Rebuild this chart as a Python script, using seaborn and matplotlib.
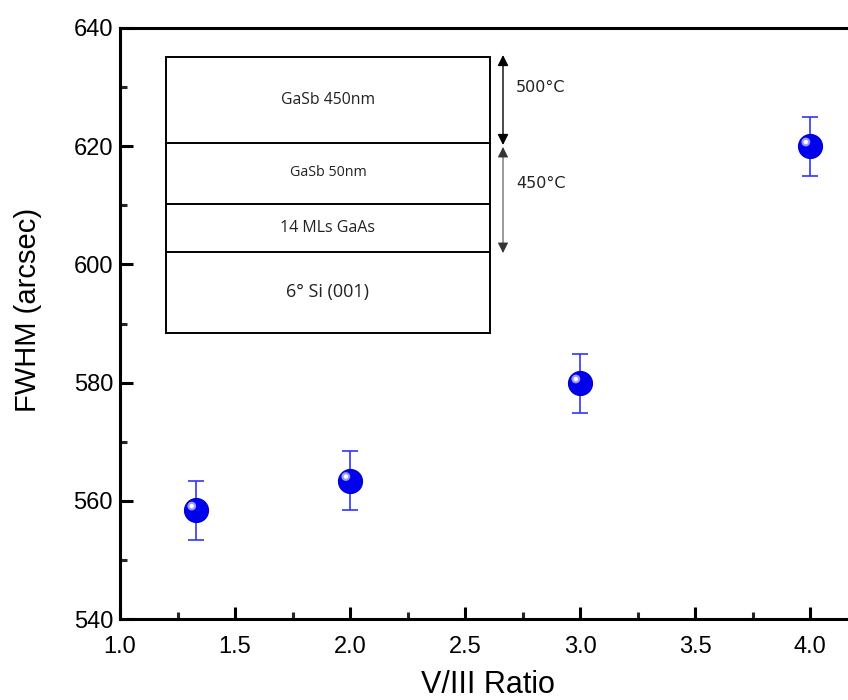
import numpy as np
import pandas as pd
import matplotlib
matplotlib.use("Agg")
import matplotlib.pyplot as plt
import matplotlib.transforms as mtransforms
from matplotlib.patches import Rectangle
from matplotlib.ticker import MultipleLocator
import seaborn as sns

sns.set_theme(style="ticks")
plt.rcParams['font.family'] = ['Liberation Sans', 'DejaVu Sans']

# data
ratio = [1.33, 2.0, 3.0, 4.0]
fwhm = [558.4, 563.4, 579.9, 620.0]
fwhm_err = [5.0, 5.0, 5.0, 5.0]

layers = ["GaSb 450nm", "GaSb 50nm", "14 MLs GaAs", "6° Si (001)"]
temps = ["500°C", "450°C"]

df = pd.DataFrame({"ratio": ratio, "fwhm": fwhm, "err": fwhm_err})

fig = plt.figure(figsize=(8.48, 7.0), dpi=100)
ax = fig.add_axes([120 / 848, 81 / 700, 1 - 120 / 848, 591 / 700])

# error bars first, then the spheres on top
ax.errorbar(df["ratio"], df["fwhm"], yerr=df["err"], fmt="none",
            ecolor="#3333ff", elinewidth=1.2, capsize=6, capthick=1.2, zorder=2)
sns.scatterplot(data=df, x="ratio", y="fwhm", ax=ax, s=300, color="#0000ee",
                edgecolor="#0000cc", linewidth=0.8, zorder=3, legend=False)
# highlight on spheres
hl = mtransforms.offset_copy(ax.transData, fig=fig, x=-3, y=3, units="points")
ax.scatter(df["ratio"], df["fwhm"], s=40, color="#9c9cff", edgecolor="none",
           transform=hl, zorder=4)
ax.scatter(df["ratio"], df["fwhm"], s=10, color="white", edgecolor="none",
           transform=hl, zorder=5)

ax.set_xlim(1.0, 1 + (848 - 120) / 230.0)
ax.set_ylim(540, 640)
ax.xaxis.set_major_locator(MultipleLocator(0.5))
ax.xaxis.set_minor_locator(MultipleLocator(0.25))
ax.yaxis.set_major_locator(MultipleLocator(20))
ax.yaxis.set_minor_locator(MultipleLocator(10))
ax.xaxis.set_major_formatter(matplotlib.ticker.FormatStrFormatter("%.1f"))

for s in ["left", "bottom", "top"]:
    ax.spines[s].set_linewidth(2.2)
    ax.spines[s].set_color("black")
ax.spines["right"].set_visible(False)
ax.tick_params(which="major", direction="in", length=9, width=2.2,
               labelsize=17, colors="black", pad=5)
ax.tick_params(axis="x", which="major", pad=12)
ax.tick_params(which="minor", direction="in", length=5, width=2.2)
ax.tick_params(top=False, right=False, which="both")
ax.set_xlabel("V/III Ratio", fontsize=22, color="black")
ax.set_ylabel("FWHM (arcsec)", fontsize=21, color="black")
ax.xaxis.set_label_coords(0.505, -0.086)
ax.yaxis.set_label_coords(-0.107, 0.523)
ax.grid(False)

# layer stack sketch, drawn in pixel coords
ov = fig.add_axes([0, 0, 1, 1], facecolor="none")
ov.set_xlim(0, 848)
ov.set_ylim(700, 0)
ov.axis("off")
ov.add_patch(Rectangle((166, 57), 324, 276, fill=False, lw=1.4, ec="black"))
for yy in [143, 204, 252]:
    ov.plot([166, 490], [yy, yy], color="black", lw=1.4)
lay_y = [100, 173, 228, 292]
lay_fs = [11.3, 10.3, 11.5, 13.0]
for txt, yy, fs in zip(layers, lay_y, lay_fs):
    ov.text(328, yy, txt, ha="center", va="center", fontsize=fs,
            family=["Open Sans", "DejaVu Sans"], color="#222222")
ov.annotate("", xy=(503, 55), xytext=(503, 145),
            arrowprops=dict(arrowstyle="<|-|>", color="black", lw=1.0,
                            mutation_scale=16, shrinkA=0, shrinkB=0))
ov.annotate("", xy=(503, 147), xytext=(503, 253),
            arrowprops=dict(arrowstyle="<|-|>", color="#333333", lw=0.7,
                            mutation_scale=16, shrinkA=0, shrinkB=0))
for txt, yy in zip(temps, [87, 183]):
    ov.text(516, yy, txt, ha="left", va="center", fontsize=11.5,
            family=["DejaVu Sans"], color="#222222")

fig.savefig("out.png", dpi=100)
